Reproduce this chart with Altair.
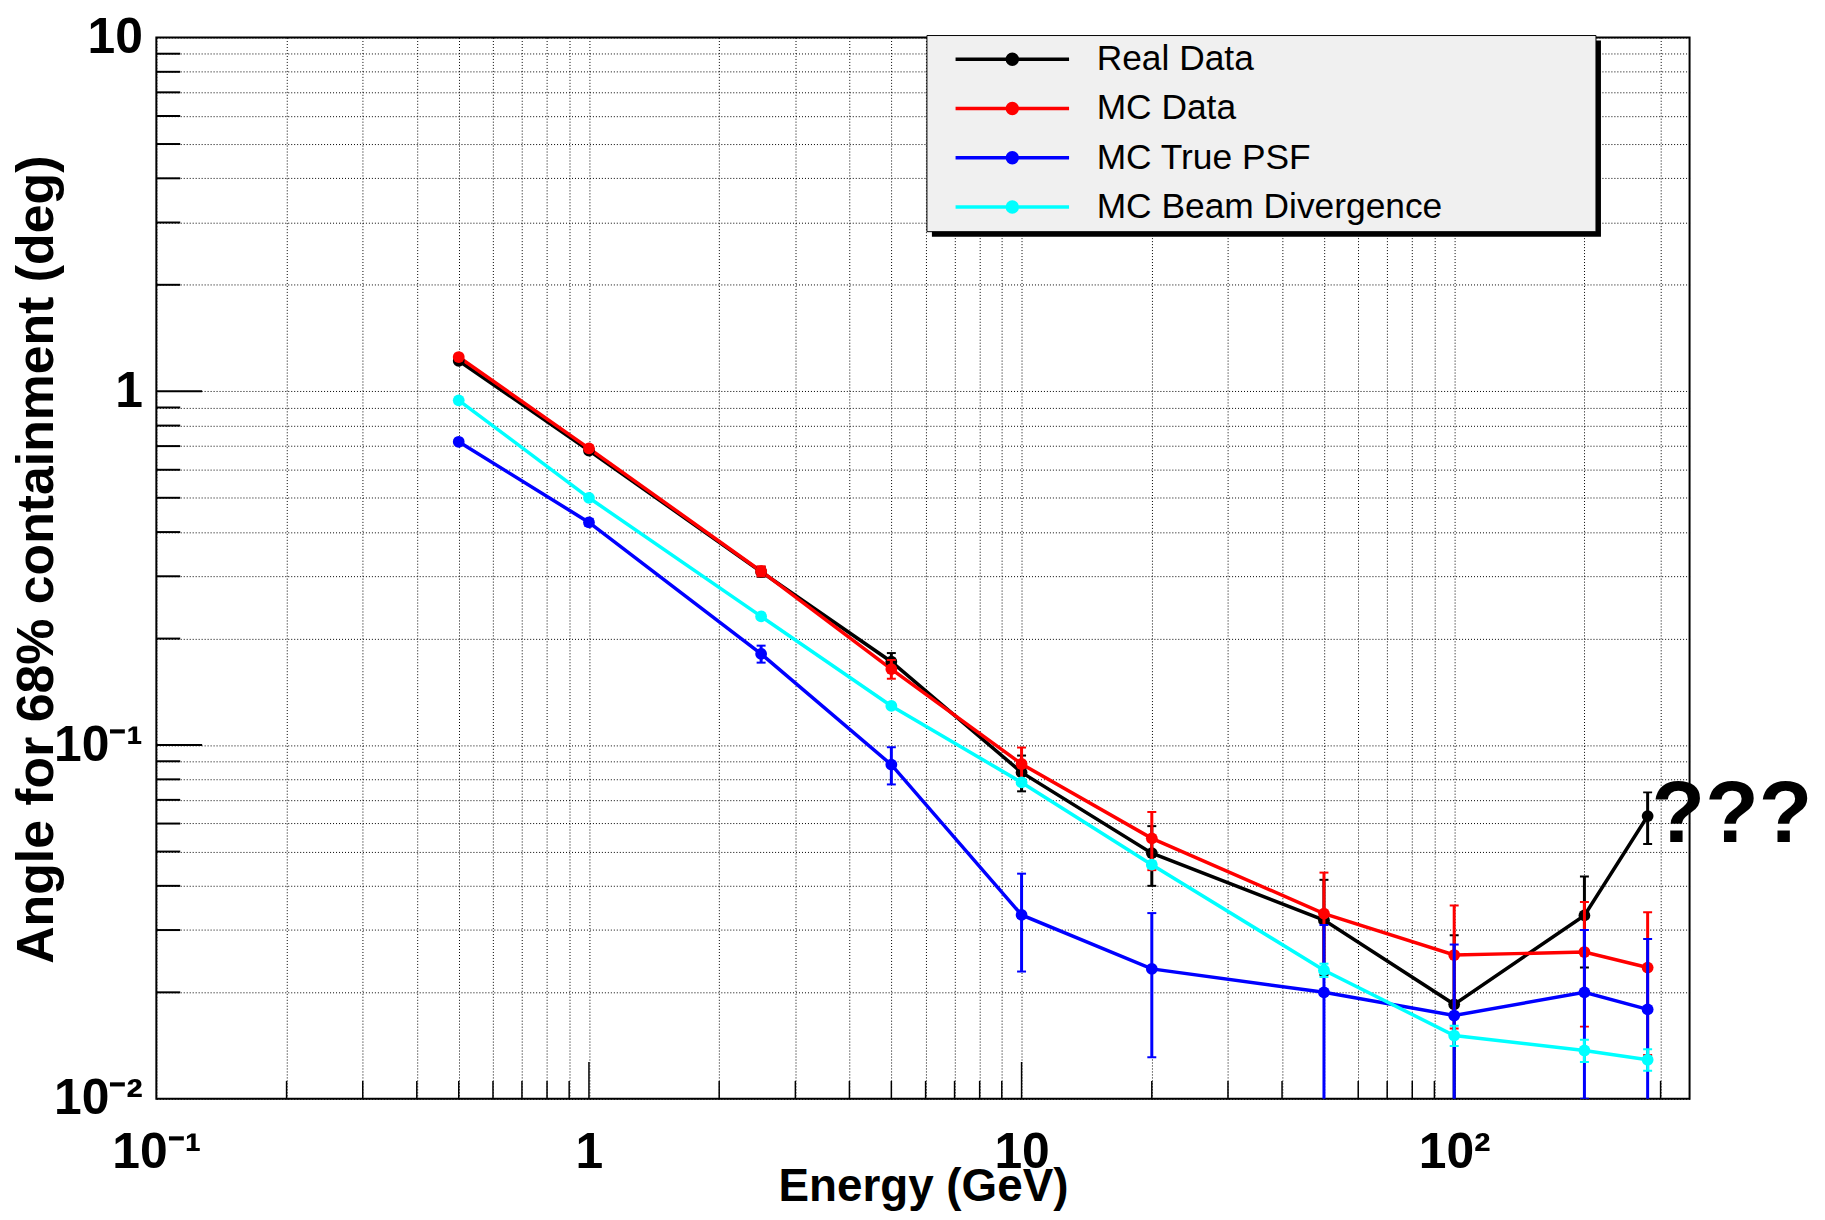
import altair as alt
import pandas as pd

# ---------------- data ----------------
energy = [0.5, 1, 2.5, 5, 10, 20, 50, 100, 200, 280]
series_names = ["Real Data", "MC Data", "MC True PSF", "MC Beam Divergence"]
series_colors = ["#000000", "#ff0000", "#0000ff", "#00ffff"]

real_data = [1.22, 0.68, 0.309, 0.172, 0.0837, 0.0495, 0.0320, 0.0185, 0.0330, 0.0630]
real_err = [0.010, 0.010, 0.010, 0.010, 0.0097, 0.0095, 0.0096, 0.0105, 0.0095, 0.0105]
mc_data = [1.25, 0.69, 0.310, 0.164, 0.0884, 0.0545, 0.0334, 0.0255, 0.0260, 0.0235]
mc_err = [0.010, 0.010, 0.010, 0.010, 0.010, 0.0102, 0.0102, 0.0097, 0.0100, 0.0102]
true_psf = [0.72, 0.426, 0.181, 0.088, 0.0331, 0.0233, 0.0200, 0.0172, 0.0200, 0.0179]
psf_err = [0.010, 0.010, 0.010, 0.0106, 0.0102, 0.0102, 0.0110, 0.0101, 0.0100, 0.0104]
beam_div = [0.943, 0.50, 0.231, 0.129, 0.0784, 0.0459, 0.0231, 0.0151, 0.0137, 0.0129]
beam_err = [0.002, 0.002, 0.002, 0.002, 0.001, 0.001, 0.001, 0.001, 0.001, 0.0009]

annotation = ["???"]

x_grid = [0.2, 0.3, 0.4, 0.5, 0.6, 0.7, 0.8, 0.9, 1, 2, 3, 4, 5, 6, 7, 8, 9,
          10, 20, 30, 40, 50, 60, 70, 80, 90, 100, 200, 300]
x_major = [1, 10, 100]
x_minor = [0.2, 0.3, 0.4, 0.5, 0.6, 0.7, 0.8, 0.9, 2, 3, 4, 5, 6, 7, 8, 9,
           20, 30, 40, 50, 60, 70, 80, 90, 200, 300]
y_grid = [0.01, 0.02, 0.03, 0.04, 0.05, 0.06, 0.07, 0.08, 0.09, 0.1, 0.2, 0.3, 0.4,
          0.5, 0.6, 0.7, 0.8, 0.9, 1, 2, 3, 4, 5, 6, 7, 8, 9, 10]
y_major = [0.1, 1]
y_minor = [0.02, 0.03, 0.04, 0.05, 0.06, 0.07, 0.08, 0.09, 0.2, 0.3, 0.4, 0.5,
           0.6, 0.7, 0.8, 0.9, 2, 3, 4, 5, 6, 7, 8, 9]

# ---------------- tables ----------------
rows = []
for name, vals, errs in zip(series_names, [real_data, mc_data, true_psf, beam_div],
                            [real_err, mc_err, psf_err, beam_err]):
    for e, v, d in zip(energy, vals, errs):
        rows.append({"series": name, "energy": e, "angle": v, "lo": v - d, "hi": v + d})
df = pd.DataFrame(rows)

ann_df = pd.DataFrame({"energy": [energy[-1]], "angle": [real_data[-1]], "text": annotation})

W, H = 1540, 1066
FONT = "Liberation Sans"

x_scale = alt.Scale(type="log", domain=[0.1, 350], nice=False)
y_scale = alt.Scale(type="log", domain=[0.01, 10], nice=False)

x_axis = alt.Axis(
    values=[0.1] + x_grid, title="Energy (GeV)",
    labelExpr="abs(datum.value-0.1)<1e-9 ? '10⁻¹' : abs(datum.value-1)<1e-9 ? '1' : "
              "abs(datum.value-10)<1e-9 ? '10' : abs(datum.value-100)<1e-9 ? '10²' : ''",
    labelFlush=False, labelOverlap=False, labelPadding=29,
    titleY=88, titleBaseline="middle", titleFontSize=46,
)
y_axis = alt.Axis(
    values=y_grid, title="Angle for 68% containment (deg)",
    labelExpr="abs(datum.value-0.01)<1e-9 ? '10⁻²' : abs(datum.value-0.1)<1e-9 ? '10⁻¹' : "
              "abs(datum.value-1)<1e-9 ? '1' : abs(datum.value-10)<1e-9 ? '10' : ''",
    labelFlush=False, labelOverlap=False, labelPadding=14,
    titleX=-120, titleY=524, titleAngle=270, titleAlign="center", titleBaseline="middle",
    titleFontSize=52,
)

color_enc_legend = alt.Color(
    "series:N",
    scale=alt.Scale(domain=series_names, range=series_colors),
    legend=alt.Legend(
        title=None, orient="none", legendX=842, legendY=4, zindex=1,
        symbolType="M-11.4,0L11.4,0M1,0A1,1,0,1,1,-1,0A1,1,0,1,1,1,0"
                   "M0.4,0A0.4,0.4,0,1,1,-0.4,0A0.4,0.4,0,1,1,0.4,0",
        symbolSize=100, symbolStrokeWidth=3.5, symbolOpacity=1,
        labelFont=FONT, labelFontSize=35.5, labelColor="black", labelOffset=67,
        rowPadding=12.5, padding=0, labelLimit=600,
    ),
)
color_enc = alt.Color("series:N", scale=alt.Scale(domain=series_names, range=series_colors),
                      legend=None)

base = alt.Chart(df)
X = alt.X("energy:Q", scale=x_scale, axis=x_axis)
Y = alt.Y("angle:Q", scale=y_scale, axis=y_axis)

# legend box + shadow (decoration)
box_df = pd.DataFrame({"k": [0]})
shadow = alt.Chart(box_df).mark_rect(color="black").encode(
    x=alt.value(779), x2=alt.value(1451), y=alt.value(3), y2=alt.value(200))
box = alt.Chart(box_df).mark_rect(fill="#f0f0f0", stroke="black", strokeWidth=1).encode(
    x=alt.value(774), x2=alt.value(1446), y=alt.value(-2), y2=alt.value(195))

# inward tick marks
xt_minor = alt.Chart(pd.DataFrame({"v": x_minor})).mark_rule(color="black", strokeWidth=1.5).encode(
    x=alt.X("v:Q", scale=x_scale, axis=x_axis), y=alt.value(H), y2=alt.value(H - 18))
xt_major = alt.Chart(pd.DataFrame({"v": x_major})).mark_rule(color="black", strokeWidth=1.5).encode(
    x=alt.X("v:Q", scale=x_scale, axis=x_axis), y=alt.value(H), y2=alt.value(H - 37))
yt_minor = alt.Chart(pd.DataFrame({"v": y_minor})).mark_rule(color="black", strokeWidth=2).encode(
    y=alt.Y("v:Q", scale=y_scale, axis=y_axis), x=alt.value(0), x2=alt.value(24))
yt_major = alt.Chart(pd.DataFrame({"v": y_major})).mark_rule(color="black", strokeWidth=2).encode(
    y=alt.Y("v:Q", scale=y_scale, axis=y_axis), x=alt.value(0), x2=alt.value(46))

# lines first (the first layer carrying the colour legend defines it)
layers = []
for name in series_names:
    sub = base.transform_filter(alt.datum.series == name)
    layers.append(sub.mark_line(strokeWidth=3.5).encode(x=X, y=Y, color=color_enc_legend))
layers += [xt_minor, xt_major, yt_minor, yt_major]
for name in series_names:
    sub = base.transform_filter(alt.datum.series == name)
    err = sub.mark_rule(strokeWidth=3, clip=True).encode(
        x=X, y=alt.Y("lo:Q", scale=y_scale, axis=y_axis), y2="hi:Q", color=color_enc)
    cap_lo = sub.mark_tick(orient="horizontal", size=9, thickness=2, clip=True, opacity=1).encode(
        x=X, y=alt.Y("lo:Q", scale=y_scale, axis=y_axis), color=color_enc)
    cap_hi = sub.mark_tick(orient="horizontal", size=9, thickness=2, clip=True, opacity=1).encode(
        x=X, y=alt.Y("hi:Q", scale=y_scale, axis=y_axis), color=color_enc)
    pts = sub.mark_point(filled=True, size=140, opacity=1).encode(x=X, y=Y, color=color_enc)
    layers += [err, cap_lo, cap_hi, pts]

qmark = alt.Chart(ann_df).mark_text(
    align="left", baseline="middle", dx=4, fontSize=88, fontWeight="bold", font=FONT, color="black"
).encode(x=alt.X("energy:Q", scale=x_scale, axis=x_axis),
         y=alt.Y("angle:Q", scale=y_scale, axis=y_axis), text="text:N")

layers += [shadow, box, qmark]

chart = alt.layer(*layers).properties(
    width=W, height=H,
    autosize=alt.AutoSizeParams(type="none"),
    padding={"left": 149, "top": 27, "right": 128, "bottom": 111},
).configure_view(
    stroke="black", strokeWidth=2
).configure_axis(
    grid=True, gridColor="black", gridDash=[1, 2], gridWidth=1, gridOpacity=1,
    ticks=False, domain=False,
    labelFont=FONT, labelFontWeight="bold", labelFontSize=50, labelColor="black",
    titleFont=FONT, titleFontWeight="bold", titleColor="black",
)

chart.save("out.html", embed_options={"renderer": "svg", "actions": False})
